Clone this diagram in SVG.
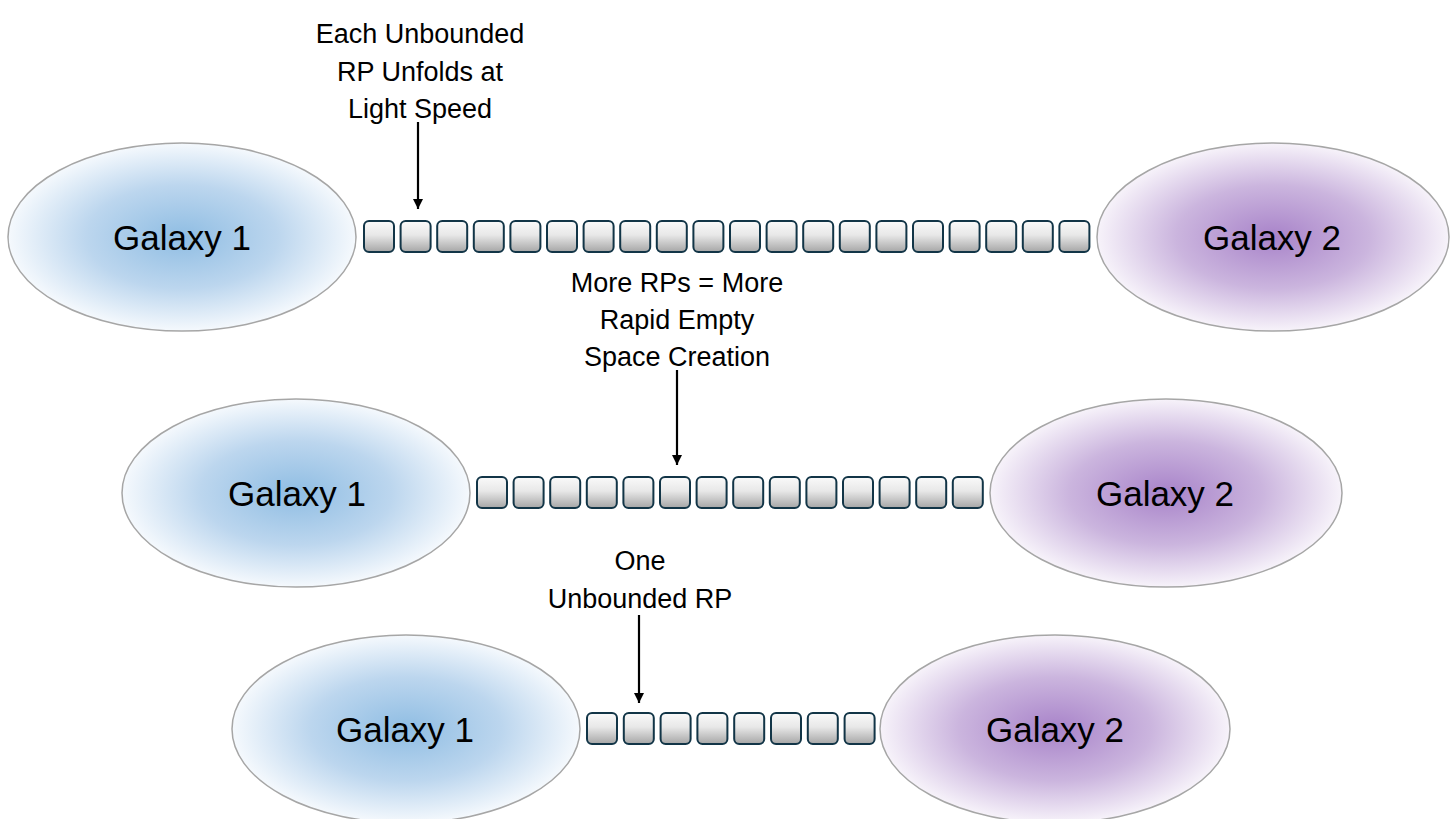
<svg xmlns="http://www.w3.org/2000/svg" xmlns:xlink="http://www.w3.org/1999/xlink" width="1453" height="819" viewBox="0 0 1453 819">
  <style>
    .lbl { font-family: "Liberation Sans", Arial, sans-serif; font-size: 27px; fill: #000; text-anchor: middle; }
    .gal { font-family: "Liberation Sans", Arial, sans-serif; font-size: 35px; fill: #000; text-anchor: middle; }
    .g1 { fill: url(#blueGrad); stroke: #a6a6a6; stroke-width: 1.5; }
    .g2 { fill: url(#purpleGrad); stroke: #a6a6a6; stroke-width: 1.5; }
    .conn { stroke: #000; stroke-width: 2.2; fill: none; }
  </style>
  <defs>
    <radialGradient id="blueGrad" cx="0.5" cy="0.5" r="0.5">
      <stop offset="0" stop-color="#8fbde3"/>
      <stop offset="0.55" stop-color="#bcd6ee"/>
      <stop offset="1" stop-color="#f5f9fd"/>
    </radialGradient>
    <radialGradient id="purpleGrad" cx="0.5" cy="0.5" r="0.5">
      <stop offset="0" stop-color="#a883c9"/>
      <stop offset="0.55" stop-color="#cbb5de"/>
      <stop offset="1" stop-color="#f7f3fa"/>
    </radialGradient>
    <linearGradient id="sqGrad" x1="0" y1="0" x2="0" y2="1">
      <stop offset="0" stop-color="#fafafa"/>
      <stop offset="0.45" stop-color="#e8e8e8"/>
      <stop offset="1" stop-color="#a6a6a6"/>
    </linearGradient>
    <rect id="sq" x="0" y="0" width="30" height="31" rx="5" ry="5" fill="url(#sqGrad)" stroke="#123547" stroke-width="2"/>
    <marker id="arrow" markerUnits="userSpaceOnUse" markerWidth="11" markerHeight="11" refX="10" refY="5" orient="auto">
      <path d="M0,0 L10,5 L0,10 z" fill="#000"/>
    </marker>
  </defs>

  <rect width="1453" height="819" fill="#fff"/>

  <!-- Row 1 -->
  <g id="row1-galaxy1">
    <ellipse class="g1" cx="182" cy="237" rx="174" ry="94"/>
    <text class="gal" x="182" y="250">Galaxy 1</text>
  </g>
  <g id="row1-galaxy2">
    <ellipse class="g2" cx="1273" cy="237" rx="176" ry="94"/>
    <text class="gal" x="1272" y="250">Galaxy 2</text>
  </g>
  <g id="row1-rps">
    <use xlink:href="#sq" x="364" y="221"/>
    <use xlink:href="#sq" x="400.6" y="221"/>
    <use xlink:href="#sq" x="437.2" y="221"/>
    <use xlink:href="#sq" x="473.8" y="221"/>
    <use xlink:href="#sq" x="510.4" y="221"/>
    <use xlink:href="#sq" x="547" y="221"/>
    <use xlink:href="#sq" x="583.6" y="221"/>
    <use xlink:href="#sq" x="620.2" y="221"/>
    <use xlink:href="#sq" x="656.8" y="221"/>
    <use xlink:href="#sq" x="693.4" y="221"/>
    <use xlink:href="#sq" x="730" y="221"/>
    <use xlink:href="#sq" x="766.6" y="221"/>
    <use xlink:href="#sq" x="803.2" y="221"/>
    <use xlink:href="#sq" x="839.8" y="221"/>
    <use xlink:href="#sq" x="876.4" y="221"/>
    <use xlink:href="#sq" x="913" y="221"/>
    <use xlink:href="#sq" x="949.6" y="221"/>
    <use xlink:href="#sq" x="986.2" y="221"/>
    <use xlink:href="#sq" x="1022.8" y="221"/>
    <use xlink:href="#sq" x="1059.4" y="221"/>
  </g>
  <g id="label1">
    <text class="lbl" x="420" y="43">Each Unbounded</text>
    <text class="lbl" x="420" y="81">RP Unfolds at</text>
    <text class="lbl" x="420" y="118">Light Speed</text>
  </g>

  <!-- Row 2 -->
  <g id="row2-galaxy1">
    <ellipse class="g1" cx="296" cy="493" rx="174" ry="94"/>
    <text class="gal" x="297" y="506">Galaxy 1</text>
  </g>
  <g id="row2-galaxy2">
    <ellipse class="g2" cx="1166" cy="493" rx="176" ry="94"/>
    <text class="gal" x="1165" y="506">Galaxy 2</text>
  </g>
  <g id="row2-rps">
    <use xlink:href="#sq" x="477" y="477"/>
    <use xlink:href="#sq" x="513.6" y="477"/>
    <use xlink:href="#sq" x="550.2" y="477"/>
    <use xlink:href="#sq" x="586.8" y="477"/>
    <use xlink:href="#sq" x="623.4" y="477"/>
    <use xlink:href="#sq" x="660" y="477"/>
    <use xlink:href="#sq" x="696.6" y="477"/>
    <use xlink:href="#sq" x="733.2" y="477"/>
    <use xlink:href="#sq" x="769.8" y="477"/>
    <use xlink:href="#sq" x="806.4" y="477"/>
    <use xlink:href="#sq" x="843" y="477"/>
    <use xlink:href="#sq" x="879.6" y="477"/>
    <use xlink:href="#sq" x="916.2" y="477"/>
    <use xlink:href="#sq" x="952.8" y="477"/>
  </g>
  <g id="label2">
    <text class="lbl" x="677" y="292">More RPs = More</text>
    <text class="lbl" x="677" y="329">Rapid Empty</text>
    <text class="lbl" x="677" y="366">Space Creation</text>
  </g>

  <!-- Row 3 -->
  <g id="row3-galaxy1">
    <ellipse class="g1" cx="406" cy="729" rx="174" ry="94"/>
    <text class="gal" x="405" y="742">Galaxy 1</text>
  </g>
  <g id="row3-galaxy2">
    <ellipse class="g2" cx="1055" cy="729" rx="175" ry="94"/>
    <text class="gal" x="1055" y="742">Galaxy 2</text>
  </g>
  <g id="row3-rps">
    <use xlink:href="#sq" x="587" y="713"/>
    <use xlink:href="#sq" x="623.8" y="713"/>
    <use xlink:href="#sq" x="660.6" y="713"/>
    <use xlink:href="#sq" x="697.4" y="713"/>
    <use xlink:href="#sq" x="734.2" y="713"/>
    <use xlink:href="#sq" x="771" y="713"/>
    <use xlink:href="#sq" x="807.8" y="713"/>
    <use xlink:href="#sq" x="844.6" y="713"/>
  </g>
  <g id="label3">
    <text class="lbl" x="640" y="570">One</text>
    <text class="lbl" x="640" y="608">Unbounded RP</text>
  </g>

  <!-- Connectors -->
  <g id="connectors">
    <line class="conn" x1="418" y1="122" x2="418" y2="209" marker-end="url(#arrow)"/>
    <line class="conn" x1="677" y1="370" x2="677" y2="465" marker-end="url(#arrow)"/>
    <line class="conn" x1="639" y1="615" x2="639" y2="703" marker-end="url(#arrow)"/>
  </g>
</svg>
